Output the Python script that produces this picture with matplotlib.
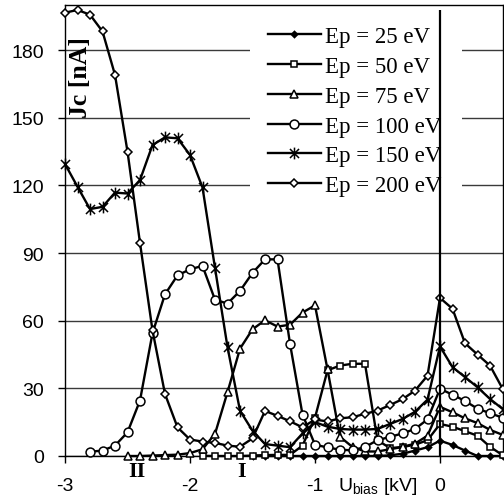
import numpy as np
import matplotlib
matplotlib.use('Agg')
import matplotlib.pyplot as plt
from matplotlib.path import Path
from matplotlib.patches import Rectangle

plt.rcParams['font.family'] = ['Liberation Sans', 'DejaVu Sans']
plt.rcParams['mathtext.fontset'] = 'custom'
plt.rcParams['mathtext.rm'] = 'Liberation Sans'
plt.rcParams['mathtext.it'] = 'Liberation Sans:italic'

nan = np.nan

# bias voltage [kV]
u_bias = [-3.0, -2.9, -2.8, -2.7, -2.6, -2.5, -2.4, -2.3, -2.2, -2.1, -2.0,
          -1.9, -1.8, -1.7, -1.6, -1.5, -1.4, -1.3, -1.2, -1.1, -1.0,
          -0.9, -0.8, -0.7, -0.6, -0.5, -0.4, -0.3, -0.2, -0.1, 0.0,
          0.1, 0.2, 0.3, 0.4, 0.5]

# collector current Jc [nA] for each primary energy
jc_25 = [nan, nan, nan, nan, nan, nan, nan, nan, nan, nan, nan,
         nan, nan, nan, nan, 0.0, 0.0, 0.0, 0.0, 0.0, 0.0,
         0.0, 0.0, 0.0, 0.0, 0.0, 0.3, 1.0, 2.4, 3.9, 6.8,
         4.9, 2.4, 0.0, 0.0, 0.0]
jc_50 = [nan, nan, nan, nan, nan, nan, nan, nan, nan, nan, nan,
         0.1, 0.0, 0.0, 0.0, 0.2, 0.4, 0.5, 0.5, 4.6, 17.0,
         38.0, 40.1, 40.9, 40.9, 7.0, 3.5, 4.0, 5.0, 7.0, 14.2,
         13.0, 11.0, 9.0, 4.1, 0.4]
jc_75 = [nan, nan, nan, nan, nan, 0.0, 0.0, 0.2, 0.4, 0.6, 1.3,
         3.0, 9.8, 28.3, 47.6, 56.2, 60.2, 57.4, 58.2, 63.6, 66.8,
         38.4, 8.5, 4.0, 2.0, 2.0, 3.0, 4.0, 5.5, 9.0, 21.8,
         19.4, 16.7, 14.6, 11.6, 9.4]
jc_100 = [nan, nan, 1.9, 2.4, 4.6, 10.5, 24.6, 54.5, 71.7, 80.1, 82.8,
          84.3, 69.3, 67.6, 73.2, 81.2, 87.2, 87.2, 49.8, 18.4, 5.0,
          3.8, 2.8, 2.5, 4.0, 7.0, 8.5, 10.0, 12.0, 16.2, 29.8,
          27.2, 24.4, 21.0, 19.0, 17.0]
jc_150 = [129.5, 119.4, 109.5, 110.5, 116.8, 116.4, 122.4, 137.9, 141.3, 140.9, 133.5,
          119.1, 83.4, 48.3, 20.1, 11.2, 5.3, 4.6, 3.9, 10.0, 15.0,
          13.0, 12.0, 11.7, 11.7, 12.0, 14.2, 16.4, 19.6, 25.0, 48.6,
          39.4, 35.0, 30.5, 25.3, 20.9]
jc_200 = [196.6, 197.8, 195.7, 188.3, 169.0, 135.0, 94.5, 55.7, 27.5, 12.7, 7.3,
          6.4, 5.8, 4.6, 4.1, 7.8, 20.0, 17.8, 15.4, 12.7, 16.2,
          15.3, 16.7, 17.2, 18.7, 20.1, 22.6, 25.2, 29.0, 35.6, 70.1,
          65.3, 50.0, 45.0, 40.1, 29.9]

labels = ['Ep = 25 eV', 'Ep = 50 eV', 'Ep = 75 eV',
          'Ep = 100 eV', 'Ep = 150 eV', 'Ep = 200 eV']

# Excel-like star: X plus a vertical bar
star = Path([(-1, -1), (1, 1), (-1, 1), (1, -1), (0, -1.3), (0, 1.3)],
            [Path.MOVETO, Path.LINETO] * 3)

styles = [
    dict(marker='D', ms=3.2, mfc='black'),
    dict(marker='s', ms=4.8, mfc='white'),
    dict(marker='^', ms=6.2, mfc='white'),
    dict(marker='o', ms=6.4, mfc='white'),
    dict(marker=star, ms=8.5, mfc='none'),
    dict(marker='D', ms=4.4, mfc='white'),
]
series = [jc_25, jc_50, jc_75, jc_100, jc_150, jc_200]

fig = plt.figure(figsize=(5.04, 5.02), dpi=100)
ax = fig.add_axes([65 / 504, 1 - 457 / 502, 437.5 / 504, 451 / 502])

for y, lab, st in zip(series, labels, styles):
    ax.plot(u_bias, y, color='black', lw=1.7, mec='black', mew=1.1,
            label=lab, clip_on=False, zorder=3, **st)

# white panel behind the legend (hides grid lines there)
ax.add_patch(Rectangle((0.423, 0.53), 0.485, 0.465, transform=ax.transAxes,
                       facecolor='white', edgecolor='none', zorder=5))

# marker line at zero bias
ax.vlines(0, 0, 198, color='black', lw=1.6, zorder=7)

ax.set_xlim(-3, 0.5)
ax.set_ylim(0, 200)
ax.set_xticks([-3, -2, -1, 0])
ax.set_xticklabels(['-3', '-2', '-1', '0'])
ax.set_yticks([0, 30, 60, 90, 120, 150, 180])
ax.yaxis.grid(True, color='#3a3a3a', lw=1.0)
ax.set_axisbelow(True)
ax.tick_params(direction='out', length=5, width=1, color='black',
               labelsize=14, pad=10)
for sp in ax.spines.values():
    sp.set_linewidth(1.0)

leg = ax.legend(loc='upper left', bbox_to_anchor=(0.4276, 0.988),
                prop={'family': 'Liberation Serif', 'size': 16.5},
                handlelength=2.3, handletextpad=0.2, labelspacing=0.38,
                borderpad=0.7, borderaxespad=0, frameon=False)
leg.set_zorder(6)

fig.text(80 / 504, 1 - 78 / 502, 'Jc [nA]', rotation=90, ha='center', va='center',
         family='Liberation Serif', weight='bold', fontsize=18.5)
fig.text(137 / 504, 1 - 472 / 502, 'II', ha='center', va='center',
         family='Liberation Serif', weight='bold', fontsize=16)
fig.text(242 / 504, 1 - 472 / 502, 'I', ha='center', va='center',
         family='Liberation Serif', weight='bold', fontsize=16)
fig.text(338 / 504, 1 - 491.5 / 502, r'U$_{\mathrm{bias}}$ [kV]', ha='left',
         va='baseline', fontsize=14)

fig.savefig('out.png', dpi=100)
